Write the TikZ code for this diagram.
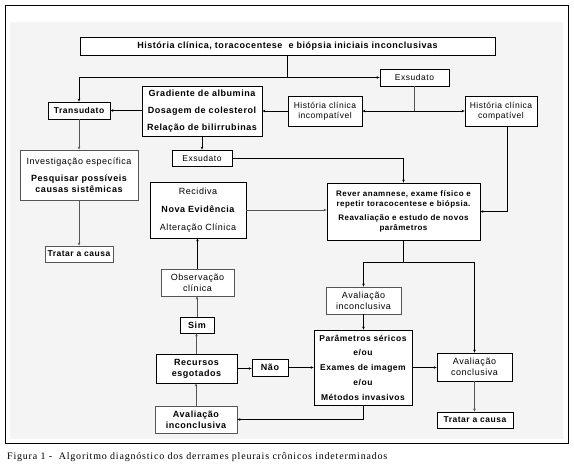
\documentclass[tikz,border=0pt]{standalone}
\usepackage{fontspec}
\setmainfont{Liberation Sans}[LetterSpace=6]
\newfontfamily\capfont[LetterSpace=8]{Liberation Serif}
\usetikzlibrary{arrows.meta,calc}
\definecolor{bgin}{HTML}{F4F4F4}
\definecolor{edgegray}{HTML}{555555}
\newcommand\Fs[1]{\fontsize{#1}{\dimexpr#1pt*6/5\relax}\selectfont}
\tikzset{
  box/.style={draw=black, fill=white, line width=0.8pt, inner sep=1pt, align=center,
    font=\Fs{9}},
  gbox/.style={box, draw=edgegray},
  arr/.style={draw=black, line width=0.7pt, -{Stealth[length=3pt,width=2.6pt]}},
  garr/.style={arr, draw=edgegray},
  ln/.style={draw=black, line width=0.7pt}
}
\newcommand\placebox[7]{%
  \pgfmathsetmacro\pbcx{(#2+#4)/2}\pgfmathsetmacro\pbcy{(#3+#5)/2}%
  \pgfmathsetmacro\pbw{#4-#2}\pgfmathsetmacro\pbh{#5-#3}%
  \node[#6, minimum width=\pbw pt, minimum height=\pbh pt] (#1) at (\pbcx,\pbcy) {#7};}
\begin{document}
\begin{tikzpicture}[x=1pt,y=-1pt]
\useasboundingbox (0,0) rectangle (574,468);
\fill[white] (0,0) rectangle (574,468);
\fill[bgin] (10,22) rectangle (563,439);
\draw[line width=0.9pt] (5,5) rectangle (568,443);

\placebox{top}{80}{37}{495}{55}{box,font=\Fs{9}\bfseries}{História clínica, toracocentese\ \ e biópsia iniciais inconclusivas}
\placebox{exs1}{380}{69}{449}{86}{box,font=\Fs{8.5}}{Exsudato}
\placebox{trans}{48}{102}{110}{119}{box,font=\Fs{8.5}\bfseries}{Transudato}
\placebox{grad}{142}{86}{262}{136}{box,font=\Fs{9}\bfseries}{Gradiente de albumina\\[6pt]Dosagem de colesterol\\[6pt]Relação de bilirrubinas}
\placebox{incomp}{288}{96}{362}{126}{box,font=\Fs{8.5}}{História clínica\\incompatível}
\placebox{comp}{465}{96}{537}{126}{box,font=\Fs{8.5}}{História clínica\\compatível}
\placebox{exs2}{172}{150}{232}{166}{box,font=\Fs{8.5}}{Exsudato}
\placebox{inv}{20}{150}{138}{200}{gbox}{Investigação específica\\[6pt]{\bfseries Pesquisar possíveis}\\{\bfseries causas sistêmicas}}
\placebox{rever}{327}{183}{480}{240}{box,font=\Fs{8}\bfseries}{Rever anamnese, exame físico e\\repetir toracocentese e biópsia.\\[5pt]Reavaliação e estudo de novos\\parâmetros}
\placebox{recid}{150}{182}{246}{238}{box}{Recidiva\\[7pt]{\bfseries Nova Evidência}\\[7pt]Alteração Clínica}
\placebox{tratL}{45}{246}{113}{262}{gbox,font=\Fs{8.5}\bfseries}{Tratar a causa}
\placebox{obs}{161}{269}{234}{296}{gbox}{Observação\\clínica}
\placebox{avinc1}{326}{287}{401}{314}{gbox}{Avaliação\\inconclusiva}
\placebox{sim}{180}{317}{214}{333}{box,font=\Fs{9}\bfseries}{Sim}
\placebox{param}{314}{330}{412}{405}{box,font=\Fs{8.5}\bfseries}{Parâmetros séricos\\[4.5pt]e/ou\\[4.5pt]Exames de imagem\\[4.5pt]e/ou\\[4.5pt]Métodos invasivos}
\placebox{recur}{156}{354}{237}{383}{box,font=\Fs{9}\bfseries}{Recursos\\esgotados}
\placebox{nao}{252}{359}{288}{376}{box,font=\Fs{9}\bfseries}{Não}
\placebox{avconc}{437}{353}{512}{381}{box}{Avaliação\\conclusiva}
\placebox{avinc2}{155}{406}{237}{433}{gbox,font=\Fs{9}\bfseries}{Avaliação\\inconclusiva}
\placebox{tratR}{437}{412}{513}{428}{box,font=\Fs{8.5}\bfseries}{Tratar a causa}

% connectors
\coordinate (j1) at (top.south |- exs1.west);
\draw[ln] (top.south) -- (j1);
\draw[arr] (trans.north |- exs1.west) -- (exs1.west);
\draw[arr] (trans.north |- exs1.west) -- (trans.north);
\coordinate (j2) at (exs1.south |- incomp.east);
\draw[ln, draw=edgegray] (exs1.south) -- (j2);
\draw[arr] (j2) -- (incomp.east);
\draw[arr] (j2) -- (comp.west);
\draw[arr] (incomp.west) -- (incomp.west -| grad.east);
\draw[arr] (grad.west |- trans.east) -- (trans.east);
\draw[garr] (trans.south) -- (trans.south |- inv.north);
\draw[arr] (exs2.north |- grad.south) -- (exs2.north);
\draw[arr] (exs2.east) -| (rever.north);
\draw[arr] ([xshift=6pt]comp.south) |- (rever.east);
\draw[garr] (recid.east) -- (recid.east -| rever.west);
\draw[garr] (inv.south) -- (inv.south |- tratL.north);
\coordinate (j3) at ($(rever.south)+(0,22)$);
\draw[ln] (rever.south) -- (j3);
\draw[arr] (j3) -| (avinc1.north);
\draw[arr] (j3) -| (avconc.north);
\draw[arr] (avinc1.south) -- (avinc1.south |- param.north);
\draw[arr] (obs.north) -- (obs.north |- recid.south);
\draw[garr] (sim.north) -- (sim.north |- obs.south);
\draw[garr] (recur.north) -- (recur.north |- sim.south);
\draw[garr] (avinc2.north) -- (avinc2.north |- recur.south);
\draw[arr] (recur.east) -- (recur.east -| nao.west);
\draw[arr] (nao.east) -- (nao.east -| param.west);
\draw[arr] (param.east) -- (param.east -| avconc.west);
\draw[arr] (param.south) |- (avinc2.east);
\draw[garr, line width=1.3pt] (avconc.south) -- (avconc.south |- tratR.north);

\node[anchor=west, inner sep=0pt, font=\capfont\fontsize{10}{11}\selectfont] (cap) at (7,457)
  {Figura 1 -\ \ Algoritmo diagnóstico dos derrames pleurais crônicos indeterminados};
\end{tikzpicture}
\end{document}
